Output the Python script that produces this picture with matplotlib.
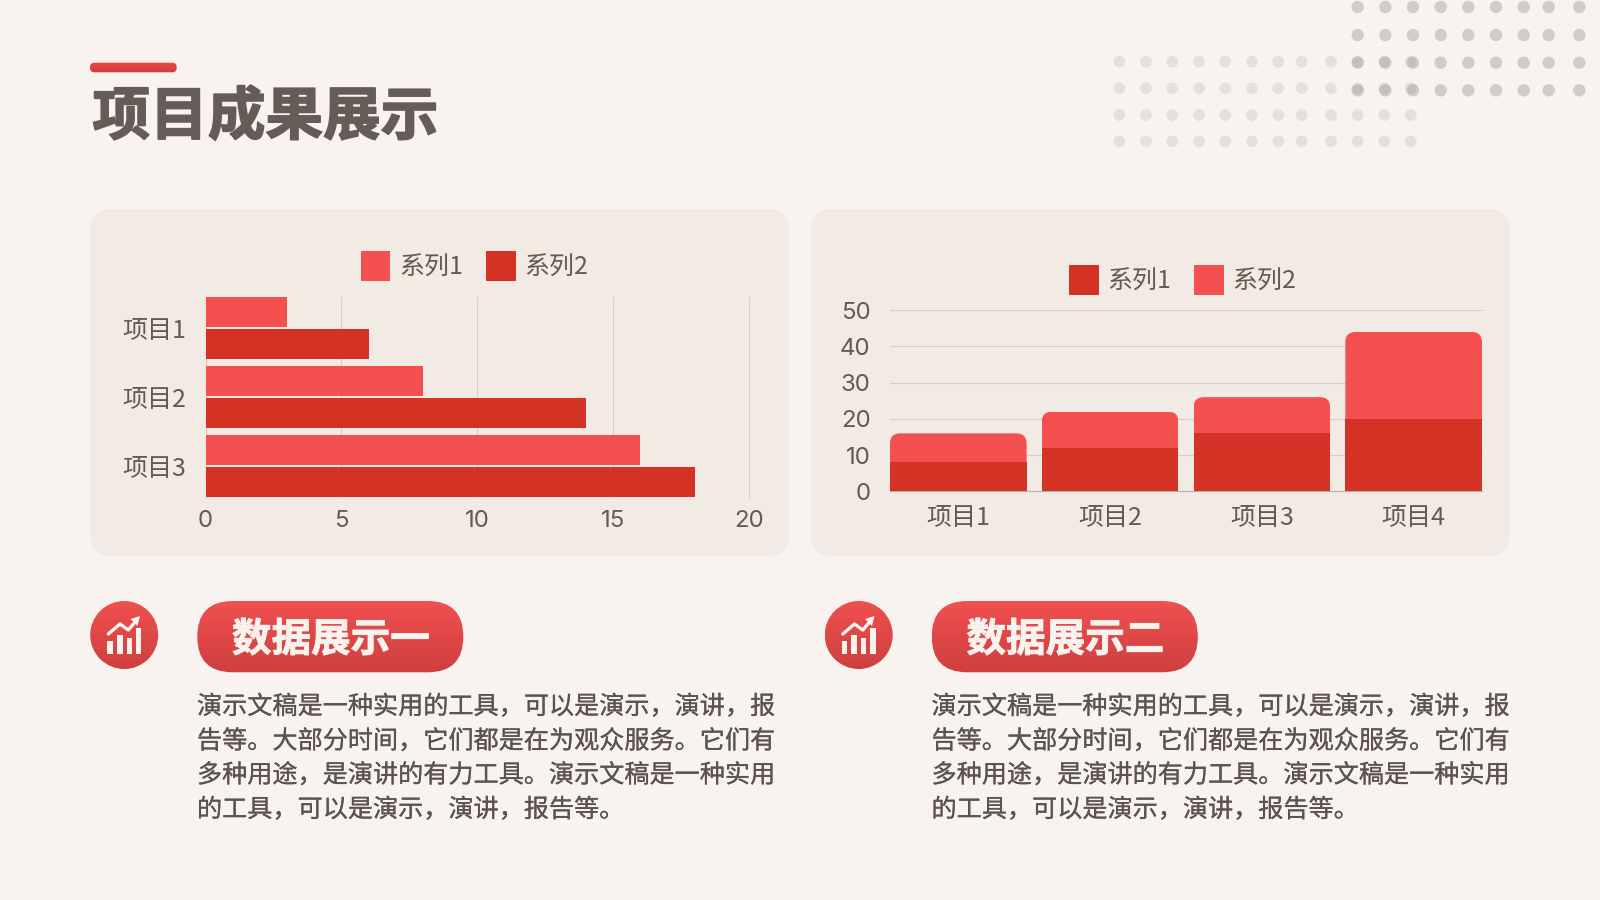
import numpy as np
import matplotlib
matplotlib.use("Agg")
import matplotlib.pyplot as plt
import matplotlib.patheffects as pe
from matplotlib.patches import FancyBboxPatch, Circle, Rectangle, Polygon
from matplotlib.transforms import IdentityTransform

plt.rcParams['font.family'] = ['Noto Sans CJK SC', 'DejaVu Sans']

# chart data
h_categories = ["项目1", "项目2", "项目3"]
h_series1 = [3, 8, 16]
h_series2 = [6, 14, 18]
h_ticks = [0, 5, 10, 15, 20]

v_categories = ["项目1", "项目2", "项目3", "项目4"]
v_series1 = [8, 12, 16, 20]
v_series2 = [8, 10, 10, 24]
v_ticks = [0, 10, 20, 30, 40, 50]

series_names = ["系列1", "系列2"]
title = "项目成果展示"
pill_labels = ["数据展示一", "数据展示二"]
body_lines = [
    "演示文稿是一种实用的工具，可以是演示，演讲，报",
    "告等。大部分时间，它们都是在为观众服务。它们有",
    "多种用途，是演讲的有力工具。演示文稿是一种实用",
    "的工具，可以是演示，演讲，报告等。",
]

BG = "#f8f3ef"
CARD = "#f2eae5"
LIGHT = "#f45050"
DARK = "#d53226"
TEXT = "#635a56"
GRID = "#d5cdc7"

fig = plt.figure(figsize=(16, 9), dpi=100, facecolor=BG)

# full-figure layer in pixel coordinates for the slide decoration
bg = fig.add_axes([0, 0, 1, 1], zorder=0)
bg.set_axis_off()


def gradient_shape(patch, x0, x1, y0, y1, top, bottom):
    bg.add_patch(patch)
    c0 = np.array(matplotlib.colors.to_rgb(top))
    c1 = np.array(matplotlib.colors.to_rgb(bottom))
    t = np.linspace(0, 1, 64).reshape(-1, 1, 1)
    im = bg.imshow(c0 + (c1 - c0) * t, extent=(x0, x1, y1, y0), aspect="auto", zorder=3)
    im.set_clip_path(patch)


def add_axes_px(x0, y0, x1, y1):
    ax = fig.add_axes([x0 / 1600, 1 - y1 / 900, (x1 - x0) / 1600, (y1 - y0) / 900], zorder=2)
    ax.patch.set_alpha(0)
    return ax


# background dots
dark_x = [1357.7, 1385.3, 1413, 1440.7, 1468.3, 1496, 1523.7, 1548.7, 1579.3]
dark_y = [7, 35, 62.7, 90.3]
light_x = [1119.3, 1146, 1172.3, 1199, 1225.3, 1252, 1278.3, 1301.7, 1331, 1357.7, 1384.3, 1410.7]
light_y = [61.7, 88.3, 115, 141.3]
for y in light_y:
    for x in light_x:
        bg.add_patch(Circle((x, y), 5.9, fc="#85786f", ec="none", alpha=0.15))
for y in dark_y:
    for x in dark_x:
        bg.add_patch(Circle((x, y), 6.2, fc="#85786f", ec="none", alpha=0.32))

# title
gradient_shape(FancyBboxPatch((90, 62.7), 86.7, 9.6, boxstyle="round,pad=0,rounding_size=4.5", fc="none", ec="none"),
               90, 177, 62, 73, "#ea4a4a", "#d23c3c")
bg.text(92.5, 117.5, title, fontsize=41.5, fontweight="black", color="#655c58", va="center", ha="left",
        path_effects=[pe.withStroke(linewidth=1.2, foreground="#655c58")])

# cards behind the two charts
for x0, x1 in [(90, 789), (811, 1510)]:
    bg.add_patch(FancyBboxPatch((x0, 209), x1 - x0, 347, boxstyle="round,pad=0,rounding_size=21", fc=CARD, ec="none", zorder=1))

# captions under the charts
for i, dx in enumerate([0, 734.5]):
    gradient_shape(Circle((124.2 + dx, 635), 34, fc="none", ec="none"),
                   90 + dx, 159 + dx, 601, 669, "#f05050", "#cf3f3f")
    # little growth icon
    for bx0, bx1, top in [(107.3, 112.7, 641), (116.7, 122.7, 635), (126.7, 131.7, 637.5), (135.7, 141.3, 628)]:
        bg.add_patch(Rectangle((bx0 + dx, top), bx1 - bx0, 654 - top, fc=BG, ec="none", zorder=4))
    bg.plot(np.array([108.3, 120, 128.3, 136]) + dx, [634, 624, 630, 621], color=BG, lw=2.4, zorder=4, solid_capstyle="round")
    bg.add_patch(Polygon([(140 + dx, 616), (130.5 + dx, 619), (137.5 + dx, 626)], fc=BG, ec="none", zorder=4))

    gradient_shape(FancyBboxPatch((197.3 + dx, 601), 266, 71.3, boxstyle="round,pad=0,rounding_size=35.6", fc="none", ec="none"),
                   197 + dx, 464 + dx, 601, 673, "#f05050", "#cf3f3f")
    bg.text(331 + dx, 640, pill_labels[i], fontsize=28.5, fontweight="black", color=BG, ha="center", va="center", zorder=5,
            path_effects=[pe.withStroke(linewidth=0.6, foreground=BG)])

    for line, y in zip(body_lines, [707, 741.5, 775.5, 810]):
        bg.text(197 + dx, y, line, fontsize=18.1, fontweight="medium", color="#5c5350", ha="left", va="center",
                path_effects=[pe.withStroke(linewidth=0.15, foreground="#5c5350")])

bg.set_xlim(0, 1600)
bg.set_ylim(900, 0)

# left chart: horizontal clustered bars
ax1 = add_axes_px(205.5, 297, 749, 496.7)
pos = np.arange(len(h_categories))
b1 = ax1.barh(pos - 0.2295, h_series1, height=0.435, color=LIGHT, label=series_names[0], zorder=3)
b2 = ax1.barh(pos + 0.2295, h_series2, height=0.435, color=DARK, label=series_names[1], zorder=3)
ax1.set_xlim(0, 20)
ax1.set_ylim(2.4475, -0.4475)
ax1.set_xticks(h_ticks)
ax1.set_yticks(pos, h_categories)
ax1.grid(axis="x", color=GRID, lw=0.8, zorder=0)
for line in ax1.get_xgridlines():
    line.set_clip_on(False)
ax1.set_axisbelow(True)
for s in ["top", "right", "bottom"]:
    ax1.spines[s].set_visible(False)
ax1.spines["left"].set_color(GRID)
ax1.tick_params(axis="both", length=0, labelcolor=TEXT)
ax1.tick_params(axis="x", pad=9.5, labelsize=17.3)
ax1.tick_params(axis="y", pad=14, labelsize=18)
for label in ax1.get_xticklabels():
    label.set_fontfamily("Inter")
ax1.legend(handles=[b1, b2], loc="center", bbox_to_anchor=(474.5 / 1600, 1 - 266 / 900), bbox_transform=fig.transFigure,
           ncol=2, frameon=False, fontsize=18, labelcolor=TEXT, handlelength=1.176, handleheight=1.43,
           handletextpad=0.34, columnspacing=0.94, borderpad=0, borderaxespad=0)

# right chart: stacked columns with rounded tops
ax2 = add_axes_px(890, 310.3, 1482, 491.3)
pos = np.arange(len(v_categories))
b1 = ax2.bar(pos, v_series1, width=0.9, color=DARK, label=series_names[0], zorder=3)
b2 = ax2.bar(pos, v_series2, width=0.9, bottom=v_series1, color=LIGHT, label=series_names[1], zorder=3)
ax2.set_xlim(-0.45, 3.45)
ax2.set_ylim(0, 50)
ax2.set_xticks(pos, v_categories)
ax2.set_yticks(v_ticks)
ax2.grid(axis="y", color=GRID, lw=0.8, zorder=0)
for line in ax2.get_ygridlines():
    line.set_clip_on(False)
ax2.set_axisbelow(True)
for s in ["top", "right", "left"]:
    ax2.spines[s].set_visible(False)
ax2.spines["bottom"].set_color("#b8afa9")
ax2.tick_params(axis="both", length=0, labelcolor=TEXT)
ax2.tick_params(axis="x", pad=10, labelsize=18)
ax2.tick_params(axis="y", pad=14, labelsize=17.3)
for label in ax2.get_yticklabels():
    label.set_fontfamily("Inter")
ax2.legend(handles=[b1, b2], loc="center", bbox_to_anchor=(1182.7 / 1600, 1 - 280 / 900), bbox_transform=fig.transFigure,
           ncol=2, frameon=False, fontsize=18, labelcolor=TEXT, handlelength=1.176, handleheight=1.43,
           handletextpad=0.34, columnspacing=0.94, borderpad=0, borderaxespad=0)

# clip the top segment of each column so only its upper corners are rounded
for bar in b2:
    (px0, py0), (px1, py1) = ax2.transData.transform([(bar.get_x(), bar.get_y()), (bar.get_x() + bar.get_width(), bar.get_y() + bar.get_height())])
    clip = FancyBboxPatch((px0, py0 - 30), px1 - px0, py1 - py0 + 30, boxstyle="round,pad=0,rounding_size=10", transform=IdentityTransform())
    bar.set_clip_path(clip)

fig.savefig("out.png", dpi=100, facecolor=BG)
